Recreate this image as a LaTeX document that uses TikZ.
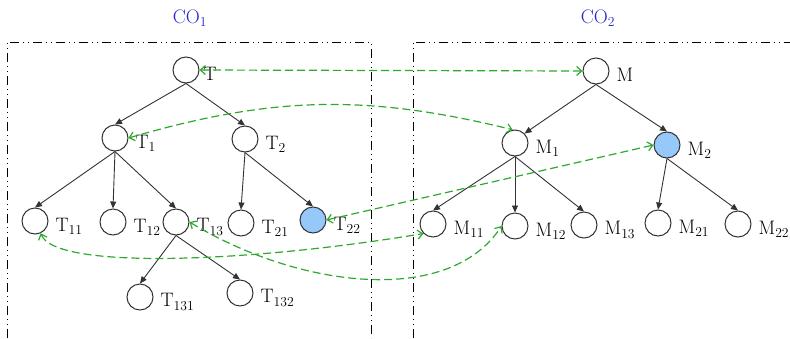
\documentclass[tikz,border=0pt]{standalone}
\usepackage{fontspec}
\usepackage{tikz}
\usetikzlibrary{arrows.meta}
\definecolor{linkgreen}{RGB}{45, 170, 45}
\definecolor{hitblue}{RGB}{150, 200, 250}
\definecolor{coblue}{RGB}{40, 40, 200}
\tikzset{
  vertex/.style={circle, draw=black!80, line width=1pt, minimum size=26pt, inner sep=0pt},
  hitnode/.style={vertex, fill=hitblue},
  lbl/.style={inner sep=1pt, label distance=6pt, yshift=-5pt},
  treearrow/.style={-{Triangle[length=7pt,width=6pt]}, draw=black!80, line width=0.9pt},
  matchlink/.style={{Straight Barb[length=5pt,width=9pt]}-{Straight Barb[length=5pt,width=9pt]}, linkgreen, line width=1.2pt, dash pattern=on 8pt off 4pt},
  cobox/.style={line width=0.9pt, dash pattern=on 9pt off 4pt on 1pt off 4pt on 1pt off 4pt}
}

\begin{document}
\begin{tikzpicture}[x=1pt, y=1pt, font=\fontsize{19.5}{22}\selectfont]
  \useasboundingbox (0,0) rectangle (790,-338);
  % the two trees
  \draw[cobox] (7,-338) -- (7,-42) -- (371,-42) -- (371,-338);
  \draw[cobox] (413,-338) -- (413,-42) -- (790,-42);
  \node[text=coblue] (co1) at (190,-18.5) {CO\textsubscript{1}};
  \node[text=coblue] (co2) at (598,-18.5) {CO\textsubscript{2}};

  \node[vertex, label={[lbl, label distance=3pt, yshift=1pt]right:T}] (T) at (186,-70) {};
  \node[vertex, label={[lbl]right:T\textsubscript{1}}] (T1) at (115,-138) {};
  \node[vertex, label={[lbl]right:T\textsubscript{2}}] (T2) at (245,-139) {};
  \node[vertex, label={[lbl]right:T\textsubscript{11}}] (T11) at (35,-221) {};
  \node[vertex, label={[lbl]right:T\textsubscript{12}}] (T12) at (113,-222) {};
  \node[vertex, label={[lbl]right:T\textsubscript{13}}] (T13) at (176,-222) {};
  \node[vertex, label={[lbl]right:T\textsubscript{21}}] (T21) at (241,-223) {};
  \node[hitnode, label={[lbl]right:T\textsubscript{22}}] (T22) at (313,-220) {};
  \node[vertex, label={[lbl]right:T\textsubscript{131}}] (T131) at (140,-297) {};
  \node[vertex, label={[lbl]right:T\textsubscript{132}}] (T132) at (240,-293) {};

  \node[vertex, label={[lbl, yshift=1pt]right:M}] (M) at (596,-71) {};
  \node[vertex, label={[lbl]right:M\textsubscript{1}}] (M1) at (515,-143) {};
  \node[hitnode, label={[lbl]right:M\textsubscript{2}}] (M2) at (667,-145) {};
  \node[vertex, label={[lbl]right:M\textsubscript{11}}] (M11) at (433,-224) {};
  \node[vertex, label={[lbl]right:M\textsubscript{12}}] (M12) at (515,-226) {};
  \node[vertex, label={[lbl]right:M\textsubscript{13}}] (M13) at (584,-225) {};
  \node[vertex, label={[lbl]right:M\textsubscript{21}}] (M21) at (658,-223) {};
  \node[vertex, label={[lbl]right:M\textsubscript{22}}] (M22) at (738,-224) {};

  \foreach \p/\c in {T/T1, T/T2, T1/T11, T1/T12, T1/T13, T2/T21, T2/T22, T13/T131, T13/T132,
                     M/M2, M1/M11, M1/M12, M1/M13, M2/M21, M2/M22}
    \draw[treearrow] (\p.south) -- (\c.north);
  \draw[treearrow] (M.south) -- (M1.north east);

  % matched pairs
  \draw[matchlink] (T.east) -- (M.west);
  \draw[matchlink] (T1.east) to[bend left=15] (M1.100);
  \draw[matchlink] (T22.east) -- (M2.west);
  \draw[matchlink] (T11.-65) .. controls +(14,-37) and +(-174,-29) .. (M11.south west);
  \draw[matchlink] (T13.east) .. controls +(111,-67) and +(-52,-80) .. (M12.west);
\end{tikzpicture}
\end{document}
